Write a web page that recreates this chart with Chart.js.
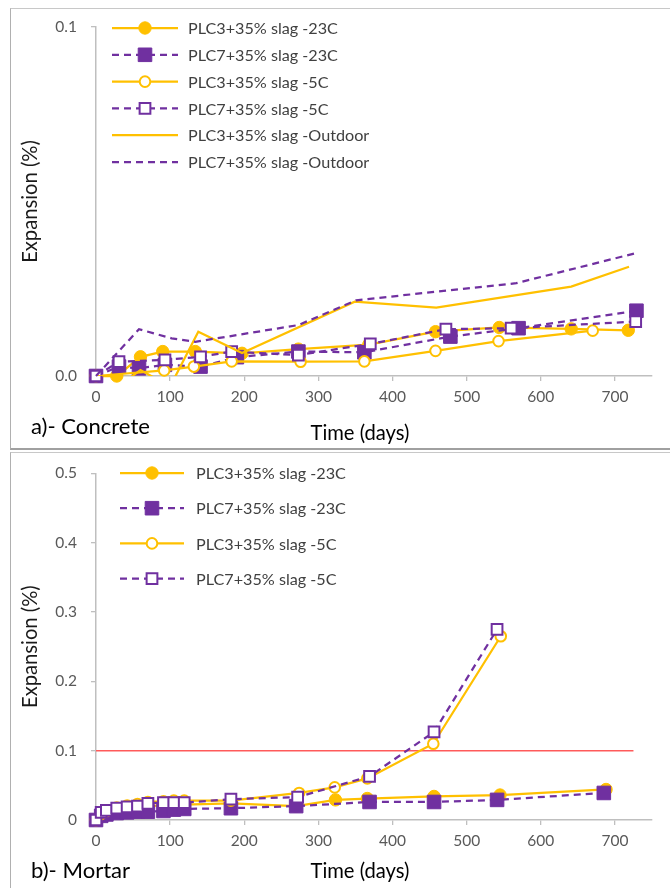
<!DOCTYPE html>
<html>
<head>
<meta charset="utf-8">
<script src="https://cdn.jsdelivr.net/npm/chart.js@4.4.1/dist/chart.umd.min.js"></script>
<style>
html,body{margin:0;padding:0;background:#fff;width:670px;height:888px;overflow:hidden;}
.panel{position:absolute;box-sizing:border-box;}
#p1{left:10px;top:8px;width:700px;height:442px;border-top:1px solid #c8c8c8;border-left:1.5px solid #b0b0b0;border-bottom:2px solid #a0a0a0;}
#p2{left:10px;top:452px;width:700px;height:500px;border-top:1px solid #c8c8c8;border-left:1.5px solid #b0b0b0;}
canvas{position:absolute;left:0;}
#c1{top:0;}
#c2{top:450px;}
</style>
</head>
<body>
<div class="panel" id="p1"></div>
<div class="panel" id="p2"></div>
<canvas id="c1" width="670" height="450"></canvas>
<canvas id="c2" width="670" height="438"></canvas>
<script>
// ---------------- DATA: a) Concrete ----------------
const concLabels = [
  'PLC3+35% slag -23C', 'PLC7+35% slag -23C', 'PLC3+35% slag -5C',
  'PLC7+35% slag -5C', 'PLC3+35% slag -Outdoor', 'PLC7+35% slag -Outdoor'
];
const concDaysPLC3_23C = [0, 28, 60, 90, 134, 197, 273, 368, 458, 544, 641, 718];
const concExpPLC3_23C  = [0, 0, 0.0055, 0.0070, 0.0070, 0.0065, 0.0077, 0.0090, 0.0127, 0.0139, 0.0135, 0.0131];
const concDaysPLC7_23C = [0, 31, 58, 93, 141, 190, 273, 362, 478, 570, 729];
const concExpPLC7_23C  = [0, 0.0027, 0.0022, 0.0032, 0.0027, 0.0054, 0.0070, 0.0068, 0.0113, 0.0137, 0.0187];
const concDaysPLC3_5C  = [0, 92, 132, 183, 276, 362, 458, 543, 670];
const concExpPLC3_5C   = [0, 0.0016, 0.0027, 0.0042, 0.0041, 0.0042, 0.0072, 0.0100, 0.0130];
const concDaysPLC7_5C  = [0, 31, 93, 141, 183, 273, 370, 472, 560, 728];
const concExpPLC7_5C   = [0, 0.0041, 0.0046, 0.0055, 0.0070, 0.0060, 0.0092, 0.0134, 0.0137, 0.0156];
const concDaysPLC3_Out = [0, 47, 60, 100, 138, 197, 349, 459, 641, 719];
const concExpPLC3_Out  = [0, -0.0003, 0.0017, -0.0030, 0.0127, 0.0066, 0.0213, 0.0196, 0.0256, 0.0313];
const concDaysPLC7_Out = [0, 58, 102, 134, 198, 273, 351, 567, 728];
const concExpPLC7_Out  = [0, 0.0134, 0.0108, 0.0098, 0.0120, 0.0146, 0.0217, 0.0266, 0.0352];
const concYTicks = [0, 0.1];

// ---------------- DATA: b) Mortar ----------------
const morLabels = ['PLC3+35% slag -23C', 'PLC7+35% slag -23C', 'PLC3+35% slag -5C', 'PLC7+35% slag -5C'];
const morDaysPLC3_23C = [0, 7, 14, 28, 42, 56, 70, 91, 105, 119, 182, 270, 323, 366, 456, 545, 688];
const morExpPLC3_23C  = [0, 0.006, 0.010, 0.014, 0.016, 0.018, 0.020, 0.021, 0.021, 0.022, 0.024, 0.020, 0.029, 0.031, 0.034, 0.036, 0.044];
const morDaysPLC7_23C = [0, 7, 14, 28, 42, 56, 70, 91, 105, 119, 182, 270, 369, 456, 541, 685];
const morExpPLC7_23C  = [0, 0.006, 0.008, 0.010, 0.011, 0.012, 0.012, 0.013, 0.015, 0.016, 0.017, 0.020, 0.026, 0.026, 0.029, 0.039];
const morDaysPLC3_5C  = [0, 7, 14, 28, 42, 56, 70, 91, 105, 119, 182, 274, 322, 366, 455, 546];
const morExpPLC3_5C   = [0, 0.009, 0.013, 0.018, 0.021, 0.023, 0.026, 0.027, 0.028, 0.028, 0.028, 0.039, 0.047, 0.060, 0.110, 0.265];
const morDaysPLC7_5C  = [0, 7, 14, 28, 42, 56, 70, 91, 105, 119, 182, 272, 369, 456, 541];
const morExpPLC7_5C   = [0, 0.011, 0.014, 0.017, 0.019, 0.020, 0.024, 0.025, 0.025, 0.025, 0.030, 0.033, 0.063, 0.127, 0.275];
const limitDays = [0, 725];
const limitExp  = [0.1, 0.1];
const morYTicks = [0, 0.1, 0.2, 0.3, 0.4, 0.5];
const xTickLabels = [0, 100, 200, 300, 400, 500, 600, 700];

// ---------------- STYLE ----------------
const FONT = 'Lato';
const YEL = '#FFC000', PUR = '#7030A0', RED = '#FF5A5A';
const TICK = '#595959';
const mCanvas = document.createElement('canvas').getContext('2d');
function fitSize(text, width) {
  mCanvas.font = '100px ' + FONT;
  return 100 * width / mCanvas.measureText(text).width;
}
const tickSize   = fitSize('100', 27);
const legendSize = fitSize('PLC3+35% slag -23C', 150);
const titleSize  = fitSize('Time (days)', 99);
const panelSize  = fitSize('a)- Concrete', 119);

function pts(xs, ys) { return xs.map((x, i) => ({ x: x, y: ys[i] })); }

const mk = {
  filledCircle: { pointStyle: 'circle', pointRadius: 6.2, pointBackgroundColor: YEL, pointBorderColor: YEL, pointBorderWidth: 1 },
  filledSquare: { pointStyle: 'rect', pointRadius: 9.6, pointBackgroundColor: PUR, pointBorderColor: PUR, pointBorderWidth: 1 },
  openCircle:   { pointStyle: 'circle', pointRadius: 5.3, pointBackgroundColor: '#ffffff', pointBorderColor: YEL, pointBorderWidth: 2 },
  openSquare:   { pointStyle: 'rect', pointRadius: 7.6, pointBackgroundColor: '#ffffff', pointBorderColor: PUR, pointBorderWidth: 2 },
  none:         { pointRadius: 0 }
};
const solidY = { borderColor: YEL, borderWidth: 2.25, borderDash: [] };
const dashP  = { borderColor: PUR, borderWidth: 2.25, borderDash: [7, 5] };

function ds(label, xs, ys, line, marker, extra) {
  return Object.assign({ label: label, data: pts(xs, ys), tension: 0, clip: false, showLine: true, pointHoverRadius: 0 }, line, marker, extra || {});
}

// ---------------- PLUGINS ----------------
function drawMarker(ctx, d, x, y) {
  const r = d.pointRadius;
  if (!r) return;
  ctx.setLineDash([]);
  ctx.fillStyle = d.pointBackgroundColor;
  ctx.strokeStyle = d.pointBorderColor;
  ctx.lineWidth = d.pointBorderWidth;
  ctx.beginPath();
  if (d.pointStyle === 'rect') {
    const h = r * Math.SQRT1_2;
    ctx.rect(x - h, y - h, 2 * h, 2 * h);
  } else {
    ctx.arc(x, y, r, 0, Math.PI * 2);
  }
  ctx.fill();
  ctx.stroke();
}

const panelLegend = {
  id: 'panelLegend',
  afterDraw(chart, args, o) {
    const ctx = chart.ctx;
    ctx.save();
    o.items.forEach((idx, row) => {
      const d = chart.data.datasets[idx];
      const y = o.y0 + row * o.dy;
      ctx.strokeStyle = d.borderColor;
      ctx.lineWidth = d.borderWidth;
      ctx.setLineDash(d.borderDash || []);
      ctx.beginPath();
      ctx.moveTo(o.x0, y);
      ctx.lineTo(o.x1, y);
      ctx.stroke();
      drawMarker(ctx, d, (o.x0 + o.x1) / 2, y);
      ctx.fillStyle = '#404040';
      ctx.font = legendSize + 'px ' + FONT;
      ctx.textAlign = 'left';
      ctx.textBaseline = 'middle';
      ctx.fillText(d.label, o.tx, y + 1);
    });
    // panel caption and x-axis title
    ctx.fillStyle = '#000000';
    ctx.textBaseline = 'middle';
    ctx.font = panelSize + 'px ' + FONT;
    ctx.textAlign = 'left';
    ctx.fillText(o.caption, o.capX, o.capY);
    ctx.font = titleSize + 'px ' + FONT;
    ctx.textAlign = 'center';
    ctx.fillText(o.xTitle, o.xtX, o.xtY);
    ctx.restore();
  }
};

function xScale(axisHeight) {
  return {
    type: 'linear', min: 0, max: 750,
    afterBuildTicks(s) { s.ticks = xTickLabels.map(v => ({ value: v })); },
    ticks: { color: TICK, font: { family: FONT, size: tickSize }, padding: 7, maxRotation: 0, autoSkip: false },
    grid: { drawOnChartArea: false, drawTicks: true, tickLength: 5, color: '#bfbfbf', lineWidth: 1.3 },
    border: { color: '#bfbfbf', width: 1.5 },
    afterFit(s) { s.height = axisHeight; }
  };
}
function yScale(max, tickVals, fmt) {
  return {
    type: 'linear', min: 0, max: max,
    afterBuildTicks(s) { s.ticks = tickVals.map(v => ({ value: v })); },
    ticks: { color: TICK, font: { family: FONT, size: tickSize }, padding: 14, callback: fmt },
    grid: { drawOnChartArea: false, drawTicks: true, tickLength: 5, color: '#bfbfbf', lineWidth: 1.3 },
    border: { color: '#bfbfbf', width: 1.5 },
    title: { display: true, text: 'Expansion (%)', color: '#1a1a1a', font: { family: FONT, size: titleSize }, padding: { top: 6, bottom: 0 } },
    afterFit(s) { s.width = 84; }
  };
}

// ---------------- CHART a) ----------------
const concSets = [
  ds(concLabels[0], concDaysPLC3_23C, concExpPLC3_23C, solidY, mk.filledCircle),
  ds(concLabels[1], concDaysPLC7_23C, concExpPLC7_23C, dashP, mk.filledSquare),
  ds(concLabels[2], concDaysPLC3_5C, concExpPLC3_5C, solidY, mk.openCircle),
  ds(concLabels[3], concDaysPLC7_5C, concExpPLC7_5C, dashP, mk.openSquare),
  ds(concLabels[4], concDaysPLC3_Out, concExpPLC3_Out, solidY, mk.none, { clip: { left: 20, top: 20, right: 20, bottom: 0 } }),
  ds(concLabels[5], concDaysPLC7_Out, concExpPLC7_Out, dashP, mk.none)
];
concSets.forEach((d, i) => { d.order = concSets.length - i; });

new Chart(document.getElementById('c1'), {
  type: 'scatter',
  data: { datasets: concSets },
  options: {
    responsive: false, animation: false, events: [],
    layout: { padding: { left: 12, top: 27, right: 18, bottom: 0 } },
    scales: {
      x: xScale(74),
      y: yScale(0.1, concYTicks, v => v.toFixed(1))
    },
    plugins: {
      legend: { display: false }, tooltip: { enabled: false },
      panelLegend: { items: [0, 1, 2, 3, 4, 5], x0: 112, x1: 178, tx: 188, y0: 28, dy: 26.8,
        caption: 'a)- Concrete', capX: 31, capY: 427, xTitle: 'Time (days)', xtX: 360, xtY: 433 }
    }
  },
  plugins: [panelLegend]
});

// ---------------- CHART b) ----------------
const morSets = [
  ds(morLabels[0], morDaysPLC3_23C, morExpPLC3_23C, solidY, mk.filledCircle),
  ds(morLabels[1], morDaysPLC7_23C, morExpPLC7_23C, dashP, mk.filledSquare),
  ds(morLabels[2], morDaysPLC3_5C, morExpPLC3_5C, solidY, mk.openCircle),
  ds(morLabels[3], morDaysPLC7_5C, morExpPLC7_5C, dashP, mk.openSquare)
];
morSets.forEach((d, i) => { d.order = morSets.length - i; });
const limitSet = ds('limit', limitDays, limitExp, { borderColor: RED, borderWidth: 1.5, borderDash: [] }, mk.none, { order: 10 });

new Chart(document.getElementById('c2'), {
  type: 'scatter',
  data: { datasets: morSets.concat([limitSet]) },
  options: {
    responsive: false, animation: false, events: [],
    layout: { padding: { left: 12, top: 20, right: 18, bottom: 0 } },
    scales: {
      x: xScale(68),
      y: yScale(0.5, morYTicks, v => (v === 0 ? '0' : v.toFixed(1)))
    },
    plugins: {
      legend: { display: false }, tooltip: { enabled: false },
      panelLegend: { items: [0, 1, 2, 3], x0: 120, x1: 184, tx: 196, y0: 23, dy: 35.2,
        caption: 'b)- Mortar', capX: 31, capY: 421, xTitle: 'Time (days)', xtX: 360, xtY: 421 }
    }
  },
  plugins: [panelLegend]
});
</script>
</body>
</html>
